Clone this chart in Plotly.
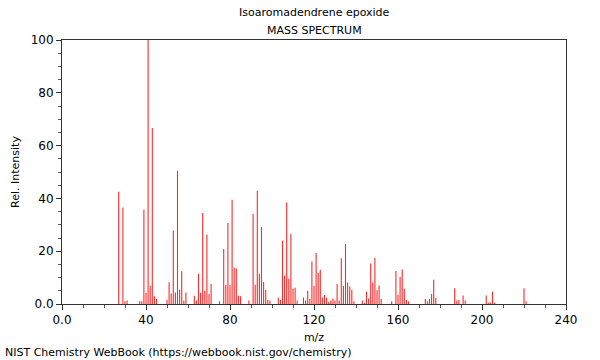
import plotly.graph_objects as go

mz = [27, 29, 30, 31, 37, 38, 39, 40, 41, 42, 43, 44, 45,
      50, 51, 52, 53, 54, 55, 56, 57, 58, 59,
      63, 64, 65, 66, 67, 68, 69, 70, 71, 75, 77, 78, 79, 80, 81, 82, 83, 84, 85,
      89, 91, 92, 93, 94, 95, 96, 97, 98, 99,
      103, 104, 105, 106, 107, 108, 109, 110, 111, 112,
      115, 116, 117, 118, 119, 120, 121, 122, 123, 124, 125, 126, 127, 128, 129, 130,
      131, 132, 133, 134, 135, 136, 137, 138, 139,
      143, 144, 145, 146, 147, 148, 149, 150, 151, 152,
      157, 159, 160, 161, 162, 163, 164, 165,
      173, 174, 175, 176, 177, 178, 187, 188, 189, 191, 192,
      202, 203, 204, 205, 206, 220, 221]
intensity = [42.5, 36.6, 1.0, 1.3, 1.0, 1.0, 35.7, 4.2, 100.0, 6.9, 66.7, 2.9, 1.9,
             1.5, 8.2, 4.0, 27.8, 4.4, 50.5, 5.4, 12.4, 1.3, 4.4,
             3.1, 1.3, 11.4, 4.3, 34.5, 5.0, 26.3, 3.8, 7.6, 1.0, 20.8, 7.2, 30.7, 7.2, 39.5, 13.7, 13.4, 3.1, 2.9,
             1.3, 34.1, 7.3, 42.9, 11.5, 29.2, 8.3, 5.3, 1.5, 1.3,
             2.4, 1.5, 24.0, 10.8, 38.4, 9.6, 26.6, 5.8, 6.2, 1.3,
             2.5, 1.3, 5.0, 1.9, 16.1, 6.9, 19.3, 11.7, 13.0, 2.5, 3.4, 2.4, 0.8, 1.3, 2.1, 1.3,
             7.6, 1.3, 17.3, 6.9, 22.7, 8.1, 6.6, 5.4, 1.0,
             1.3, 0.5, 4.7, 2.1, 15.3, 8.1, 17.5, 5.2, 7.0, 1.9,
             1.0, 12.5, 3.5, 10.3, 13.1, 5.8, 1.5, 1.0,
             1.9, 1.0, 1.9, 3.8, 9.2, 2.3, 6.0, 1.3, 1.5, 3.2, 1.3,
             3.2, 0.6, 0.6, 4.7, 0.6, 6.0, 1.0]

x_ticks = [0, 40, 80, 120, 160, 200, 240]
x_labels = ["0.0", "40", "80", "120", "160", "200", "240"]
y_ticks = [0, 20, 40, 60, 80, 100]
y_labels = ["0.0", "20", "40", "60", "80", "100"]

font = "DejaVu Sans, sans-serif"

L, R, T, B = 62, 34, 40, 56
pw = 600 - L - R
ph = 360 - T - B


def px_x(v):
    return (v - L) / pw


def px_y(v):
    return (360 - B - v) / ph


# stick spectrum: one vertical segment per peak, built from the data arrays
xs, ys = [], []
for m, v in zip(mz, intensity):
    xs += [m, m, None]
    ys += [0, v, None]

fig = go.Figure()
fig.add_trace(go.Scatter(x=xs, y=ys, mode="lines", hoverinfo="skip",
                         line=dict(color="#ff2a2a", width=1.1)))

axis_common = dict(showgrid=False, zeroline=False, showline=True, linecolor="#333333",
                   linewidth=1, mirror=True, ticks="outside", ticklen=5, tickcolor="#333333",
                   tickfont=dict(family=font, size=12, color="#000000"))

fig.update_layout(
    width=600, height=360,
    margin=dict(l=L, r=R, t=T, b=B, autoexpand=False),
    paper_bgcolor="white", plot_bgcolor="white",
    showlegend=False,
    xaxis=dict(range=[0, 240], tickvals=x_ticks, ticktext=x_labels,
               minor=dict(dtick=10, ticklen=3, ticks="outside", tickcolor="#555555"),
               title=dict(text="m/z", font=dict(family=font, size=11, color="#000"), standoff=6),
               **axis_common),
    yaxis=dict(range=[0, 100], tickvals=y_ticks, ticktext=y_labels,
               minor=dict(dtick=5, ticklen=3, ticks="outside", tickcolor="#555555"),
               title=dict(text="Rel. Intensity", font=dict(family=font, size=11, color="#000"), standoff=8),
               **axis_common),
    annotations=[
        dict(text="Isoaromadendrene epoxide", x=0.5, y=px_y(13), xref="paper", yref="paper",
             yanchor="middle", showarrow=False, font=dict(family=font, size=11, color="#000")),
        dict(text="MASS SPECTRUM", x=0.5, y=px_y(30), xref="paper", yref="paper",
             yanchor="middle", showarrow=False, font=dict(family=font, size=11, color="#000")),
        dict(text="NIST Chemistry WebBook (https://webbook.nist.gov/chemistry)",
             x=px_x(3), y=px_y(352), xref="paper", yref="paper", showarrow=False,
             xanchor="left", yanchor="middle",
             font=dict(family=font, size=11, color="#000")),
    ],
)

fig.write_html("out.html", config={"displayModeBar": False},
               post_script="document.body.style.margin='0';")
